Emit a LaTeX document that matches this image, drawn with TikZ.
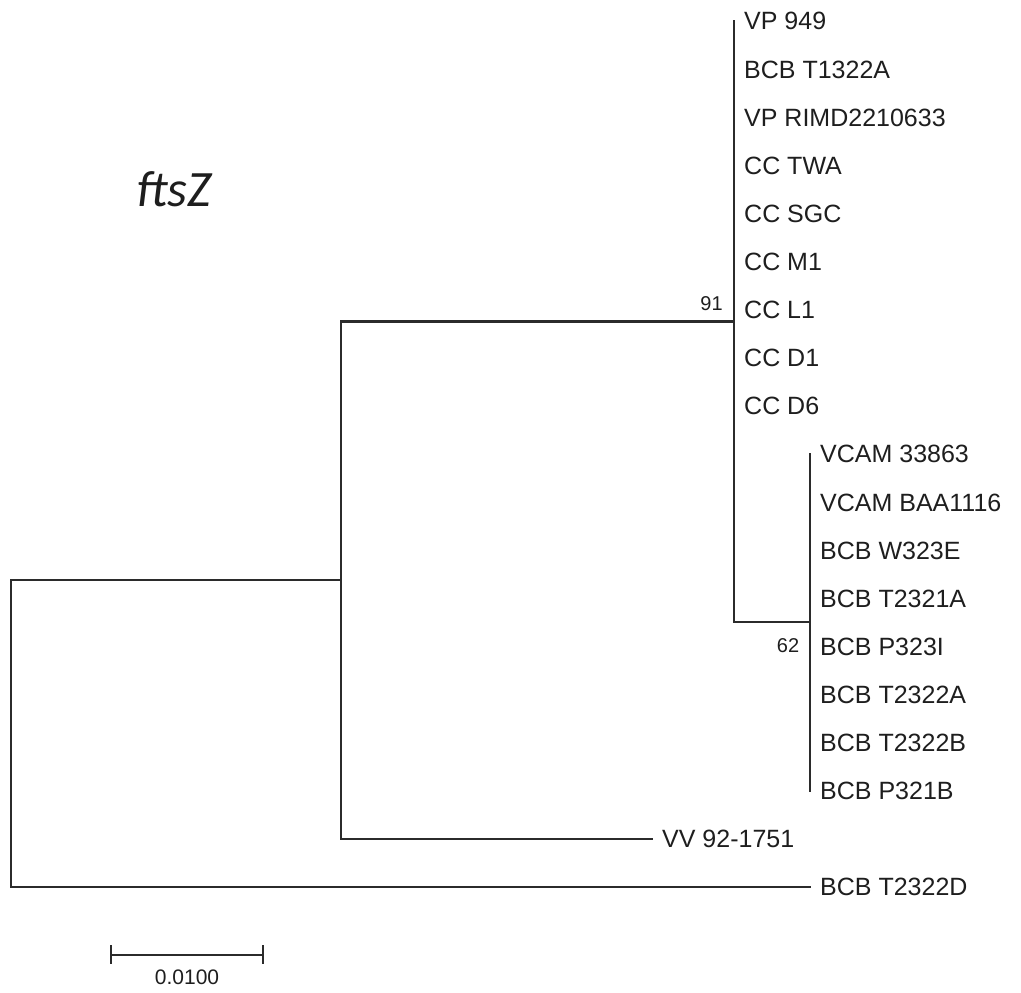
\documentclass[tikz,border=0pt]{standalone}
\usepackage{fontspec}
\setmainfont{Liberation Sans}
\newfontfamily\titlefont{Carlito}
\definecolor{branch}{HTML}{2B2B2B}
\definecolor{ink}{HTML}{1E1E1E}
\begin{document}
\begin{tikzpicture}[x=1pt,y=-1pt,
  br/.style={draw=branch,line width=2.2pt,line cap=rect},
  leaf/.style={anchor=west,inner sep=0pt,text=ink,font=\fontsize{25}{30}\selectfont,text height=18pt,text depth=0pt,xshift=10pt},
  boot/.style={inner sep=0pt,text=ink,font=\fontsize{20}{24}\selectfont},
  scalelab/.style={inner sep=0pt,text=ink,font=\fontsize{21}{25}\selectfont}]
\useasboundingbox (0,0) rectangle (1021,993);
% internal nodes
\coordinate (root) at (11,733.5);
\coordinate (nA) at (341,580);
\coordinate (n91) at (734,321.5);
\coordinate (n62) at (810,622);
% tips
\foreach \i in {0,...,8} {\coordinate (t\i) at (734,{21+48.1*\i});}
\foreach \i in {9,...,16} {\coordinate (t\i) at (810,{21+48.1*\i});}
\coordinate (tVV) at (652,838.7);
\coordinate (tD) at (810,886.8);
% branches
\draw[br] (nA) -| (root) |- (tD);
\draw[br] (n91) -| (nA) |- (tVV);
\draw[br] (t0) -- (n62 -| n91) -- (n62);
\draw[br] (t9) -- (t16);
% leaf labels
\node[leaf] (l0) at (t0) {VP 949};
\node[leaf] (l1) at (t1) {BCB T1322A};
\node[leaf] (l2) at (t2) {VP RIMD2210633};
\node[leaf] (l3) at (t3) {CC TWA};
\node[leaf] (l4) at (t4) {CC SGC};
\node[leaf] (l5) at (t5) {CC M1};
\node[leaf] (l6) at (t6) {CC L1};
\node[leaf] (l7) at (t7) {CC D1};
\node[leaf] (l8) at (t8) {CC D6};
\node[leaf] (l9) at (t9) {VCAM 33863};
\node[leaf] (l10) at (t10) {VCAM BAA1116};
\node[leaf] (l11) at (t11) {BCB W323E};
\node[leaf] (l12) at (t12) {BCB T2321A};
\node[leaf] (l13) at (t13) {BCB P323I};
\node[leaf] (l14) at (t14) {BCB T2322A};
\node[leaf] (l15) at (t15) {BCB T2322B};
\node[leaf] (l16) at (t16) {BCB P321B};
\node[leaf] (lVV) at (tVV) {VV 92-1751};
\node[leaf] (lD) at (tD) {BCB T2322D};
% bootstrap values
\node[boot] (b91) at (711.5,303.5) {91};
\node[boot] (b62) at (788,646) {62};
% title
\node[inner sep=0pt,text=ink,font=\titlefont\itshape\fontsize{51}{60}\selectfont] (title) at (174,189) {ftsZ};
% scale bar
\coordinate (sL) at (111,955);
\coordinate (sR) at (263,955);
\draw[br,line width=1.9pt] (sL) -- (sR);
\draw[br,line width=1.9pt] ([yshift=-8]sL) -- ([yshift=9]sL);
\draw[br,line width=1.9pt] ([yshift=-8]sR) -- ([yshift=9]sR);
\node[scalelab] (slab) at (187,977) {0.0100};
\end{tikzpicture}
\end{document}
